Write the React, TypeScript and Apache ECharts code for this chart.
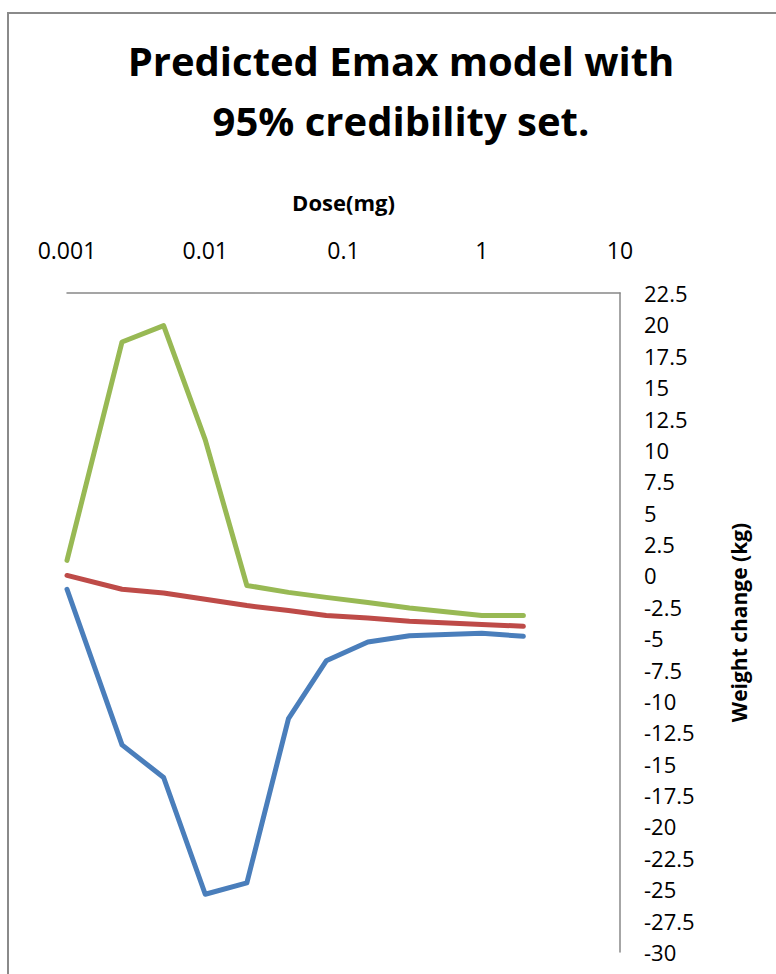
import React, { useEffect, useRef } from "react";
import * as echarts from "echarts";

const doses = [0.001, 0.0025, 0.005, 0.01, 0.02, 0.04, 0.075, 0.15, 0.3, 1, 2];
const lower = [-1.1, -13.5, -16.1, -25.4, -24.5, -11.4, -6.8, -5.3, -4.8, -4.6, -4.85];
const median = [0, -1.1, -1.4, -1.9, -2.4, -2.8, -3.2, -3.4, -3.65, -3.9, -4.05];
const upper = [1.2, 18.6, 19.9, 10.8, -0.8, -1.35, -1.75, -2.15, -2.6, -3.2, -3.2];

const titleText = "Predicted Emax model with\n95% credibility set.";
const xName = "Dose(mg)";
const yName = "Weight change (kg)";

const pair = (ys: number[]) => doses.map((d, i) => [d, ys[i]]);

export default function App() {
  const ref = useRef<HTMLDivElement>(null);
  useEffect(() => {
    if (!ref.current) return;
    const chart = echarts.init(ref.current, null, { renderer: "svg" });
    const font = "'Open Sans', sans-serif";
    const lineStyle = (c: string) => ({ color: c, width: 5, cap: "round", join: "round" });
    chart.setOption({
      animation: false,
      backgroundColor: "#ffffff",
      title: {
        text: titleText,
        left: 396,
        top: 25,
        textAlign: "center",
        textStyle: { fontFamily: font, fontWeight: "bold", fontSize: 40, lineHeight: 60, color: "#000" },
      },
      graphic: [
        {
          type: "rect",
          shape: { x: 8, y: 13, width: 820, height: 1000 },
          style: { fill: "none", stroke: "#8a8a8a", lineWidth: 2 },
          silent: true,
        },
      ],
      grid: { left: 67, top: 293, width: 553, height: 659 },
      xAxis: {
        type: "log",
        logBase: 10,
        min: 0.001,
        max: 10,
        position: "top",
        name: xName,
        nameLocation: "middle",
        nameGap: 80,
        nameTextStyle: { fontFamily: font, fontWeight: "bold", fontSize: 22, color: "#000" },
        axisLine: { show: true, onZero: false, lineStyle: { color: "#888", width: 1.5 } },
        axisTick: { show: false },
        splitLine: { show: false },
        axisLabel: {
          margin: 32,
          fontFamily: font,
          fontSize: 23,
          color: "#000",
          formatter: (v: number) => String(Number(v.toPrecision(3))),
        },
      },
      yAxis: {
        type: "value",
        min: -30,
        max: 22.5,
        interval: 2.5,
        position: "right",
        name: yName,
        nameLocation: "middle",
        nameRotate: 90,
        nameGap: 108,
        nameTextStyle: { fontFamily: font, fontWeight: "bold", fontSize: 21, color: "#000" },
        axisLine: { show: true, onZero: false, lineStyle: { color: "#888", width: 1.5 } },
        axisTick: { show: false },
        splitLine: { show: false },
        axisLabel: { margin: 24, fontFamily: font, fontSize: 22, color: "#000" },
      },
      series: [
        { name: "Lower", type: "line", data: pair(lower), showSymbol: false, lineStyle: lineStyle("#4a7ebb"), clip: true },
        { name: "Median", type: "line", data: pair(median), showSymbol: false, lineStyle: lineStyle("#be4b48"), clip: true },
        { name: "Upper", type: "line", data: pair(upper), showSymbol: false, lineStyle: lineStyle("#98b954"), clip: true },
      ],
    });
    return () => chart.dispose();
  }, []);
  return <div ref={ref} style={{ position: "fixed", left: 0, top: 0, width: 776, height: 974 }} />;
}
